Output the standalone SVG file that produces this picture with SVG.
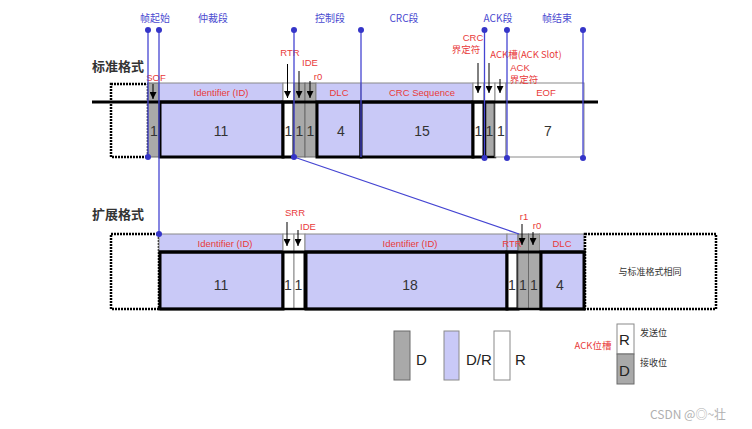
<svg xmlns="http://www.w3.org/2000/svg" width="752" height="429" viewBox="0 0 752 429">
<style>
.bg{fill:#ffffff}
.lav{fill:#c9c9f7;stroke:#8a8a8a;stroke-width:1}
.wh{fill:#ffffff;stroke:#8a8a8a;stroke-width:1}
.gr{fill:#a9a9a9;stroke:#6a6a6a;stroke-width:1}
.lavb{fill:#c9c9f7;stroke:#000;stroke-width:3}
.whb{fill:#ffffff;stroke:#000;stroke-width:3}
.grb{fill:#a9a9a9;stroke:#000;stroke-width:2.5}
.dash{fill:none;stroke:#000;stroke-width:2.5;stroke-dasharray:2 1}
.bl{stroke:#4545d2;stroke-width:1.3;fill:none}
.dot{fill:#3535c8}
.ar{stroke:#000;stroke-width:1;fill:none;marker-end:url(#ah)}
.seg{font-family:"Noto Sans CJK SC","Noto Sans",sans-serif;font-size:10px;fill:#4a4ad0;text-anchor:middle}
.ttl{font-family:"Noto Sans CJK SC","Noto Sans",sans-serif;font-size:13px;font-weight:bold;fill:#333}
.red{font-family:"Liberation Sans","Noto Sans CJK SC",sans-serif;font-size:9.5px;fill:#e83a3a;text-anchor:middle}
.redc{font-family:"Noto Sans CJK SC","Liberation Sans",sans-serif;font-size:9.5px;fill:#e83a3a;text-anchor:middle}
.num{font-family:"Liberation Sans",sans-serif;font-size:14px;fill:#333;text-anchor:middle}
.leg{font-family:"Liberation Sans",sans-serif;font-size:15px;fill:#222}
.cn{font-family:"Noto Sans CJK SC",sans-serif;font-size:9px;fill:#333}
</style>
<defs>
<marker id="ah" viewBox="0 0 8 8" refX="8" refY="4" markerWidth="7" markerHeight="7" markerUnits="userSpaceOnUse" orient="auto">
<path d="M0,0 L8,4 L0,8 Z" fill="#000"/>
</marker>
</defs>
<rect class="bg" x="0" y="0" width="752" height="429"/>

<!-- segment titles -->
<g id="segment-labels">
<text class="seg" x="155" y="22">帧起始</text>
<text class="seg" x="213" y="22">仲裁段</text>
<text class="seg" x="330" y="22">控制段</text>
<text class="seg" x="404" y="22">CRC段</text>
<text class="seg" x="498" y="22">ACK段</text>
<text class="seg" x="557" y="22">帧结束</text>
<text class="ttl" x="92" y="71">标准格式</text>
<text class="ttl" x="92" y="219">扩展格式</text>
</g>

<!-- ===== Standard format ===== -->
<g id="std-pre"><rect class="dash" x="111" y="84" width="37" height="73"/></g>
<g id="std-sof"><rect class="gr" x="148" y="83" width="11" height="74"/><text class="num" x="154" y="136">1</text></g>
<g id="std-id">
<rect class="lav" x="159" y="83" width="124" height="19"/>
<rect class="lavb" x="160" y="102" width="123" height="55"/>
<text class="red" x="221" y="96">Identifier (ID)</text>
<text class="num" x="221" y="136">11</text>
</g>
<g id="std-rtr"><rect class="wh" x="283" y="83" width="11" height="19"/><rect class="whb" x="283" y="102" width="11" height="55"/><text class="num" x="288.5" y="136">1</text></g>
<g id="std-ide"><rect class="gr" x="294" y="83" width="11" height="74"/><text class="num" x="299.5" y="136">1</text></g>
<g id="std-r0"><rect class="gr" x="305" y="83" width="11" height="74"/><text class="num" x="310.5" y="136">1</text></g>
<g id="std-dlc">
<rect class="lav" x="316" y="83" width="45" height="19"/>
<rect class="lavb" x="317" y="102" width="44" height="55"/>
<text class="red" x="339" y="96">DLC</text>
<text class="num" x="341" y="136">4</text>
</g>
<g id="std-crc">
<rect class="lav" x="361" y="83" width="112" height="19"/>
<rect class="lavb" x="361" y="102" width="112" height="55"/>
<text class="red" x="422" y="96">CRC Sequence</text>
<text class="num" x="422" y="136">15</text>
</g>
<g id="std-crcdel"><rect class="wh" x="473" y="83" width="11" height="19"/><rect class="whb" x="473" y="102" width="11" height="55"/><text class="num" x="478.5" y="136">1</text></g>
<g id="std-ackslot"><rect class="wh" x="484" y="83" width="11" height="19"/><rect class="grb" x="485" y="102" width="10" height="55"/><text class="num" x="489.5" y="136">1</text></g>
<g id="std-ackdel"><rect class="wh" x="495" y="83" width="11" height="74"/><text class="num" x="501" y="136">1</text></g>
<g id="std-eof">
<rect class="wh" x="506" y="83" width="78" height="19"/>
<rect class="wh" x="506" y="102" width="78" height="55"/>
<text class="red" x="546" y="96">EOF</text>
<text class="num" x="548" y="136">7</text>
</g>
<line x1="92" y1="102" x2="598" y2="102" stroke="#000" stroke-width="3"/>

<g id="std-labels">
<text class="red" x="156" y="81">SOF</text>
<text class="red" x="290" y="56">RTR</text>
<text class="red" x="310" y="66">IDE</text>
<text class="red" x="318" y="80">r0</text>
<text class="red" x="473" y="41">CRC</text>
<text class="redc" x="466" y="53">界定符</text>
<text class="redc" x="526" y="58" font-size="9">ACK槽(ACK Slot)</text>
<text class="red" x="520" y="71" font-size="9">ACK</text>
<text class="redc" x="524" y="83" font-size="9">界定符</text>
</g>

<!-- ===== Extended format ===== -->
<g id="ext-pre"><rect class="dash" x="111" y="234" width="48" height="75"/></g>
<g id="ext-id1">
<rect class="lav" x="159" y="234" width="124" height="18"/>
<rect class="lavb" x="160" y="252" width="123" height="57"/>
<text class="red" x="225" y="247">Identifier (ID)</text>
<text class="num" x="221" y="290">11</text>
</g>
<g id="ext-srr"><rect class="wh" x="283" y="234" width="11" height="75"/><text class="num" x="288" y="290">1</text></g>
<g id="ext-ide"><rect class="wh" x="294" y="234" width="11" height="75"/><text class="num" x="298.5" y="290">1</text></g>
<g id="ext-id2">
<rect class="lav" x="305" y="234" width="202" height="18"/>
<rect class="lavb" x="306" y="252" width="201" height="57"/>
<text class="red" x="410" y="247">Identifier (ID)</text>
<text class="num" x="410" y="290">18</text>
</g>
<g id="ext-rtr"><rect class="lav" x="507" y="234" width="11" height="18"/><rect class="whb" x="507" y="252" width="11" height="57"/><text class="num" x="512" y="290">1</text></g>
<g id="ext-r1"><rect class="gr" x="518" y="234" width="10.5" height="75"/><text class="num" x="523" y="290">1</text></g>
<g id="ext-r0"><rect class="gr" x="528.5" y="234" width="11" height="75"/><text class="num" x="534" y="290">1</text></g>
<g id="ext-dlc">
<rect class="lav" x="539.5" y="234" width="44.5" height="18"/>
<rect class="lavb" x="541" y="252" width="43" height="57"/>
<text class="red" x="562" y="247">DLC</text>
<text class="num" x="560" y="290">4</text>
</g>
<g id="ext-rest">
<rect class="dash" x="585" y="234" width="131" height="75"/>
<text class="cn" x="650" y="275" text-anchor="middle">与标准格式相同</text>
</g>
<line x1="159" y1="252" x2="586" y2="252" stroke="#000" stroke-width="3"/>
<line x1="283" y1="252" x2="283" y2="309" stroke="#000" stroke-width="3"/>
<line x1="305" y1="252" x2="305" y2="309" stroke="#000" stroke-width="3"/>
<line x1="160" y1="309" x2="585" y2="309" stroke="#000" stroke-width="2.5"/>

<g id="ext-labels">
<text class="red" x="295" y="216">SRR</text>
<text class="red" x="308" y="230">IDE</text>
<text class="red" x="512" y="247">RTR</text>
<text class="red" x="524" y="220">r1</text>
<text class="red" x="537" y="229">r0</text>
</g>

<!-- ===== Connectors ===== -->
<g id="connectors">
<line class="bl" x1="148" y1="30" x2="148" y2="157"/>
<line class="bl" x1="159" y1="30" x2="159" y2="234"/>
<line class="bl" x1="294" y1="30" x2="294" y2="157"/>
<line class="bl" x1="361" y1="30" x2="361" y2="157"/>
<line class="bl" x1="484.5" y1="30" x2="484.5" y2="157"/>
<line class="bl" x1="507" y1="30" x2="507" y2="157"/>
<line class="bl" x1="583" y1="30" x2="583" y2="157"/>
<line class="bl" x1="294" y1="157" x2="519" y2="234"/>
<circle class="dot" cx="148" cy="30" r="3"/>
<circle class="dot" cx="159" cy="30" r="3"/>
<circle class="dot" cx="294" cy="30" r="3"/>
<circle class="dot" cx="361" cy="30" r="3"/>
<circle class="dot" cx="484.5" cy="30" r="3"/>
<circle class="dot" cx="507" cy="30" r="3"/>
<circle class="dot" cx="583" cy="30" r="3"/>
<circle class="dot" cx="148" cy="157" r="3"/>
<circle class="dot" cx="294" cy="157" r="3"/>
<circle class="dot" cx="484.5" cy="158" r="3"/>
<circle class="dot" cx="507" cy="158" r="3"/>
<circle class="dot" cx="583" cy="158" r="3"/>
<circle class="dot" cx="159" cy="234" r="3"/>
<!-- black arrows -->
<line class="ar" x1="153" y1="84" x2="153" y2="99"/>
<line class="ar" x1="287.5" y1="64" x2="287.5" y2="98"/>
<line class="ar" x1="299" y1="71" x2="299" y2="98"/>
<line class="ar" x1="310" y1="81" x2="310" y2="98"/>
<line class="ar" x1="478" y1="63" x2="478" y2="93"/>
<line class="ar" x1="489" y1="63" x2="489" y2="93"/>
<line class="ar" x1="500" y1="79" x2="500" y2="93"/>
<line class="ar" x1="287" y1="222" x2="287" y2="246"/>
<line class="ar" x1="298" y1="230" x2="298" y2="246"/>
<line class="ar" x1="522" y1="224" x2="522" y2="245"/>
<line class="ar" x1="533" y1="232" x2="533" y2="245"/>
</g>

<!-- ===== Legend ===== -->
<g id="legend-d"><rect class="gr" x="394" y="331" width="16" height="49" stroke-width="1.5"/><text class="leg" x="416" y="365">D</text></g>
<g id="legend-dr"><rect class="lav" x="444" y="331" width="15" height="49" stroke-width="1.5"/><text class="leg" x="466" y="365">D/R</text></g>
<g id="legend-r"><rect class="wh" x="494" y="331" width="16" height="49" stroke-width="1.5"/><text class="leg" x="515" y="365">R</text></g>
<g id="legend-ack">
<text class="redc" x="593" y="349" font-size="10">ACK位槽</text>
<rect class="wh" x="617" y="324" width="17" height="30" stroke-width="1.5"/>
<rect class="gr" x="617" y="354" width="17" height="30" stroke-width="1.5"/>
<text class="leg" x="619" y="345">R</text>
<text class="leg" x="619" y="376">D</text>
<text class="cn" x="640" y="336">发送位</text>
<text class="cn" x="640" y="366">接收位</text>
</g>
<text x="650" y="419" font-family="Noto Sans CJK SC,sans-serif" font-size="12" fill="#b0b0b0">CSDN @◎~壮</text>
</svg>
